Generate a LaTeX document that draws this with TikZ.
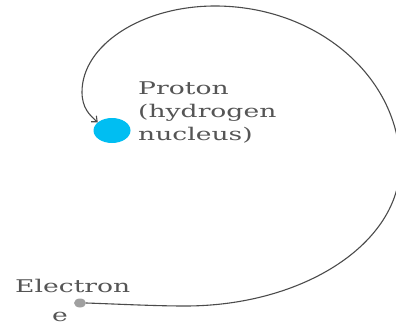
\documentclass[tikz,border=0pt]{standalone}
\usepackage{fontspec}
\setmainfont{DejaVu Serif}
\usepackage{graphicx}
\usetikzlibrary{shapes.geometric,arrows.meta}
\definecolor{protoncol}{RGB}{0,190,242}
\definecolor{txtcol}{RGB}{85,85,85}
\definecolor{linecol}{RGB}{75,75,75}
\definecolor{dotcol}{RGB}{160,160,160}
\tikzset{
  lbl/.style={text=txtcol, inner sep=0pt, font=\fontsize{17.5}{23}\selectfont},
  orbit/.style={draw=linecol, line width=1.1pt, -{Straight Barb[length=4.5pt,width=8pt]}},
}
\begin{document}
\begin{tikzpicture}[x=1pt,y=-1pt]
\useasboundingbox (0,0) rectangle (396,324);
\node[ellipse, fill=protoncol, minimum width=37pt, minimum height=25pt, inner sep=0pt] (p) at (112,130.5) {};
\node[ellipse, fill=dotcol, minimum width=12pt, minimum height=9pt, inner sep=0pt] (e) at (80,303) {};
\node[lbl, anchor=base west] (pl) at (138,117) {\scalebox{1.52}[1]{\begin{tabular}{@{}l@{}}Proton\\(hydrogen\\nucleus)\end{tabular}}};
\node[lbl, anchor=base west] (el) at (15,292) {\scalebox{1.52}[1]{Electron}};
\node[lbl, anchor=base west] (ee) at (52,321) {\scalebox{1.52}[1]{e}};
\coordinate (B) at (185,306);
\coordinate (R) at (400,165);
\coordinate (T) at (215,6);
\coordinate (L) at (82,92);
\draw[orbit] (e.east) .. controls +(30,1) and +(-30,0) .. (B)
  .. controls +(119,0) and +(0,78) .. (R)
  .. controls +(0,-88) and +(102,0) .. (T)
  .. controls +(-73,0) and +(0,-47) .. (L)
  .. controls +(0,16) and +(-8,-7) .. (p.150);
\end{tikzpicture}
\end{document}
